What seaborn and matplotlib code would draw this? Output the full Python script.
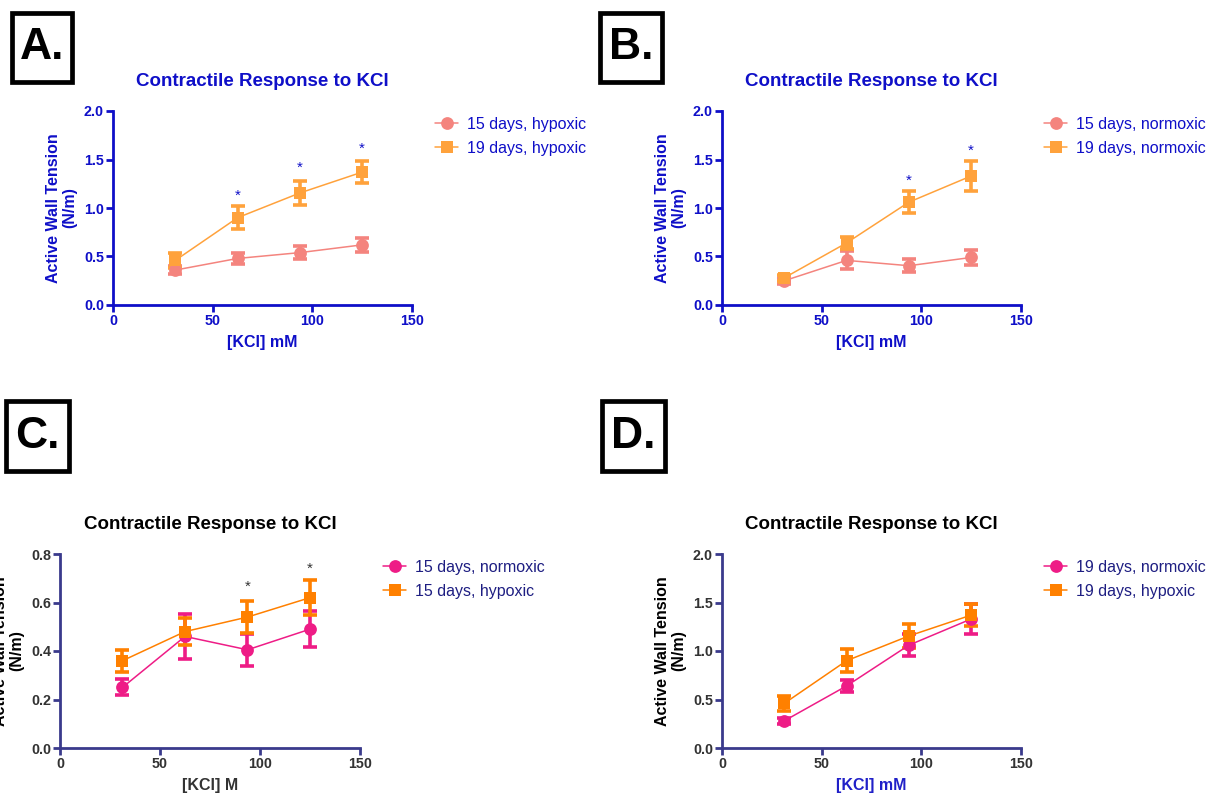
import matplotlib
matplotlib.use("Agg")
import matplotlib.pyplot as plt
import seaborn as sns
import pandas as pd
from matplotlib.patches import Rectangle

sns.set_theme(style="ticks")
plt.rcParams['font.family'] = ['Liberation Sans', 'DejaVu Sans']

# ---- data ----
kcl = [31.25, 62.5, 93.75, 125]
hyp15 = [0.36, 0.48, 0.54, 0.62]
hyp15_err = [0.045, 0.057, 0.065, 0.073]
hyp19 = [0.46, 0.90, 1.155, 1.37]
hyp19_err = [0.075, 0.12, 0.125, 0.115]
nor15 = [0.25, 0.46, 0.405, 0.49]
nor15_err = [0.033, 0.092, 0.067, 0.074]
nor19 = [0.28, 0.64, 1.06, 1.33]
nor19_err = [0.03, 0.06, 0.115, 0.155]

star_x_A = [62.5, 93.75, 125]
star_y_A = [1.13, 1.41, 1.61]
star_x_B = [93.75, 125]
star_y_B = [1.28, 1.59]
star_x_C = [93.75, 125]
star_y_C = [0.664, 0.74]

panel_letters = ["A.", "B.", "C.", "D."]
title_text = "Contractile Response to KCl"
ylabel_text = "Active Wall Tension\n(N/m)"

W, H = 1208, 794
fig = plt.figure(figsize=(W / 100, H / 100), dpi=100)


def fr(x0, y_top, x1, y_bot):
    return [x0 / W, 1 - y_bot / H, (x1 - x0) / W, (y_bot - y_top) / H]


BLUE = '#0F0FC8'
NAVY_SP = '#3A3A8C'
NAVY_TX = '#1E1E82'
DGRAY = '#333333'

A_PINK, A_ORANGE = '#F4847E', '#FFA23C'
C_PINK, C_ORANGE = '#EE1C86', '#FF8000'


def draw_panel(rect, series, ylim, yticks, spine_c, tick_c, title_c, ylab_c,
               xlab, xlab_c, leg_c, stars, star_c):
    ax = fig.add_axes(rect)
    for name, vals, errs, col, mk in series:
        df = pd.DataFrame({"KCl": kcl, "Tension": vals})
        ax.errorbar(kcl, vals, yerr=errs, fmt='none', ecolor=col,
                    elinewidth=2.6, capsize=5, capthick=2.6, zorder=2)
        sns.lineplot(data=df, x="KCl", y="Tension", ax=ax, color=col,
                     marker=mk, markersize=9.2,
                     markeredgewidth=0, linewidth=1.1, label=name, zorder=3)
    for sx, sy in zip(*stars):
        ax.text(sx, sy, "*", ha='center', va='center', fontsize=11,
                color=star_c)
    ax.set_xlim(0, 150)
    ax.set_ylim(*ylim)
    ax.set_xticks([0, 50, 100, 150])
    ax.set_yticks(yticks)
    ax.set_yticklabels([f"{v:.1f}" for v in yticks])
    sns.despine(ax=ax)
    for s in ['left', 'bottom']:
        ax.spines[s].set_color(spine_c)
        ax.spines[s].set_linewidth(2.0)
    ax.tick_params(axis='both', colors=spine_c, width=2.0, length=5,
                   direction='out', pad=1.5)
    for lab in ax.get_xticklabels() + ax.get_yticklabels():
        lab.set_color(tick_c)
        lab.set_fontweight('bold')
        lab.set_fontsize(10.3)
    ax.set_title(title_text, fontsize=13.5, fontweight='bold', color=title_c,
                 pad=18)
    ax.set_ylabel(ylabel_text, fontsize=11.5, fontweight='bold', color=ylab_c,
                  labelpad=5, linespacing=1.1)
    ax.set_xlabel(xlab, fontsize=11.5, fontweight='bold', color=xlab_c,
                  labelpad=5)
    leg = ax.legend(loc='upper left', bbox_to_anchor=(1.03, 1.045),
                    frameon=False, fontsize=11.5, handlelength=1.4,
                    handletextpad=0.6, labelspacing=0.58)
    for t in leg.get_texts():
        t.set_color(leg_c)
    return ax


draw_panel(fr(113, 111, 412, 305),
           [("15 days, hypoxic", hyp15, hyp15_err, A_PINK, 'o'),
            ("19 days, hypoxic", hyp19, hyp19_err, A_ORANGE, 's')],
           (0, 2.0), [0.0, 0.5, 1.0, 1.5, 2.0], BLUE, BLUE, BLUE, BLUE,
           "[KCl] mM", BLUE, BLUE, (star_x_A, star_y_A), BLUE)

draw_panel(fr(722, 111, 1021, 305),
           [("15 days, normoxic", nor15, nor15_err, A_PINK, 'o'),
            ("19 days, normoxic", nor19, nor19_err, A_ORANGE, 's')],
           (0, 2.0), [0.0, 0.5, 1.0, 1.5, 2.0], BLUE, BLUE, BLUE, BLUE,
           "[KCl] mM", BLUE, BLUE, (star_x_B, star_y_B), BLUE)

draw_panel(fr(60, 554, 360, 748),
           [("15 days, normoxic", nor15, nor15_err, C_PINK, 'o'),
            ("15 days, hypoxic", hyp15, hyp15_err, C_ORANGE, 's')],
           (0, 0.8), [0.0, 0.2, 0.4, 0.6, 0.8], NAVY_SP, DGRAY, 'black', 'black',
           "[KCl] M", DGRAY, NAVY_TX, (star_x_C, star_y_C), DGRAY)

draw_panel(fr(722, 554, 1021, 748),
           [("19 days, normoxic", nor19, nor19_err, C_PINK, 'o'),
            ("19 days, hypoxic", hyp19, hyp19_err, C_ORANGE, 's')],
           (0, 2.0), [0.0, 0.5, 1.0, 1.5, 2.0], NAVY_SP, DGRAY, 'black', 'black',
           "[KCl] mM", '#2020C8', NAVY_TX, ([], []), DGRAY)

# panel letter boxes (pixel geometry)
boxes = [(12, 13, 72, 82), (600, 13, 662, 82), (6, 401, 69, 471), (602, 401, 665, 471)]
for letter, (x0, y0, x1, y1) in zip(panel_letters, boxes):
    r = Rectangle((x0 / W, 1 - y1 / H), (x1 - x0) / W, (y1 - y0) / H,
                  transform=fig.transFigure, fill=False, edgecolor='black',
                  linewidth=3.4)
    fig.add_artist(r)
    fig.text((x0 + x1) / 2 / W, 1 - (y0 + y1) / 2 / H, letter, ha='center',
             va='center', fontsize=32, fontweight='bold', color='black')

fig.savefig("out.png", dpi=100)
